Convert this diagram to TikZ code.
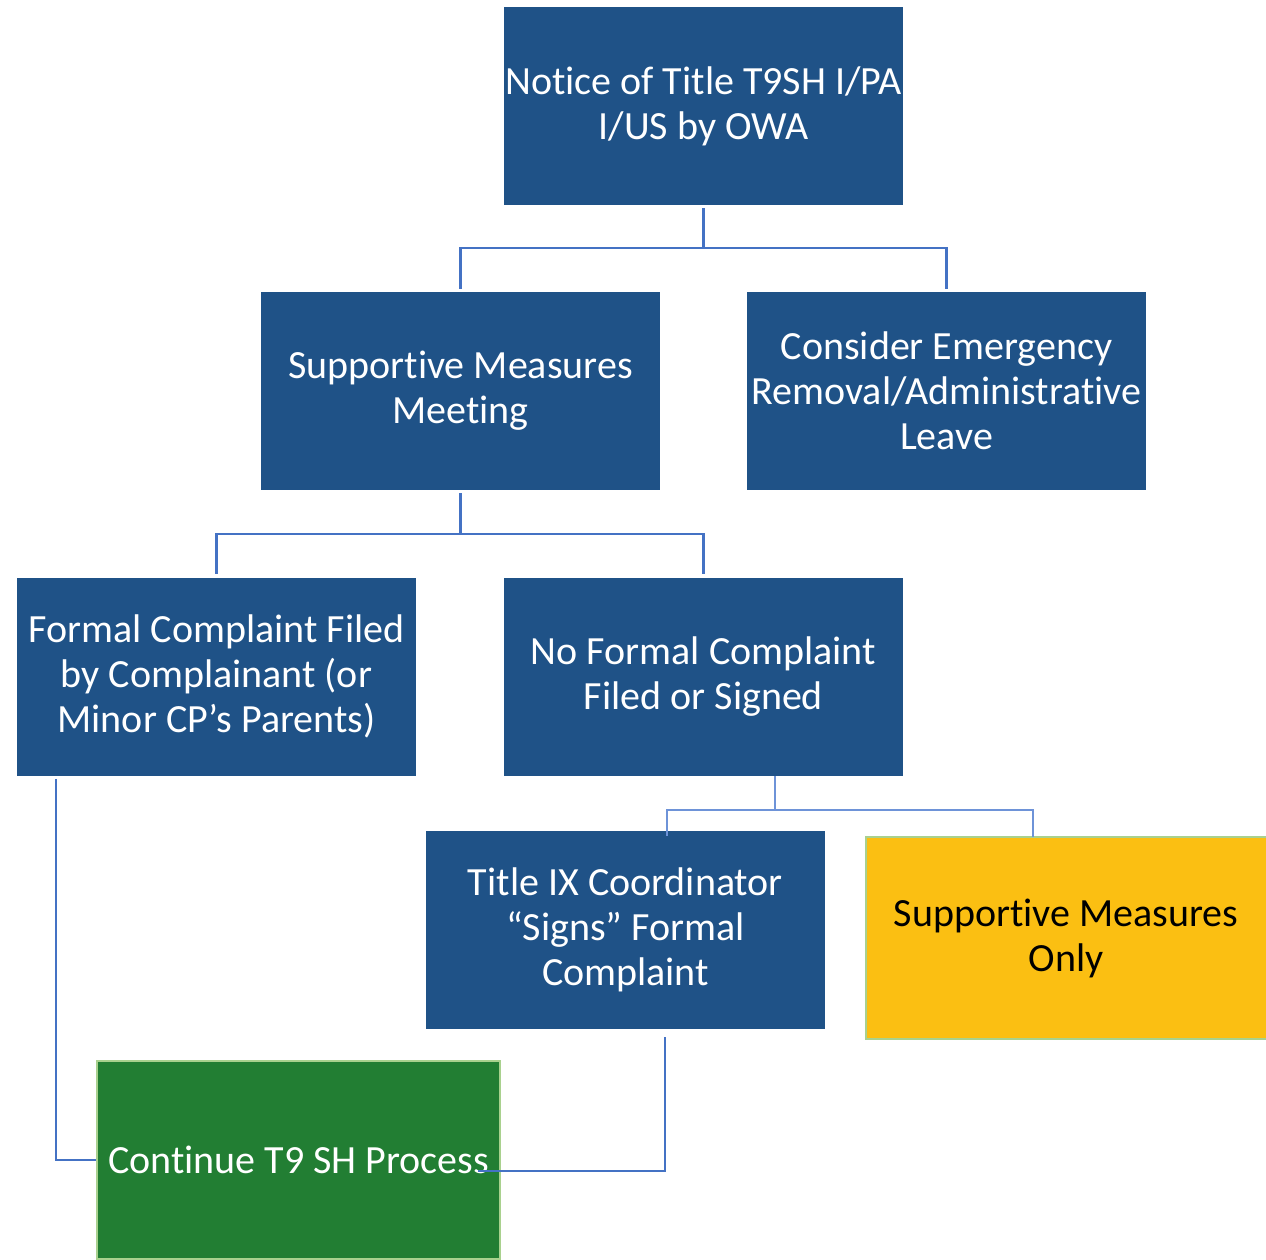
\documentclass[tikz,border=0pt]{standalone}
\usepackage{fontspec}
\setmainfont[Ligatures={NoCommon,NoRare}]{Carlito}
\usetikzlibrary{calc}
\definecolor{boxblue}{HTML}{1F5287}
\definecolor{linkblue}{HTML}{4472C4}
\definecolor{thinblue}{HTML}{6E93D8}
\definecolor{gold}{HTML}{FBBF12}
\definecolor{okgreen}{HTML}{227E33}
\definecolor{paleg}{HTML}{A9D18E}
\begin{document}
\begin{tikzpicture}[x=0.75pt,y=-0.75pt,
  bluebox/.style={rectangle,fill=boxblue,text=white,inner sep=0pt,
    minimum width=299.25pt,minimum height=148.5pt,align=center,
    font=\fontsize{30}{33.75}\selectfont},
  goldbox/.style={rectangle,fill=gold,draw=paleg,line width=1.5pt,text=black,inner sep=0pt,
    minimum width=300.75pt,minimum height=151.5pt,align=center,
    font=\fontsize{30}{33.75}\selectfont},
  greenbox/.style={rectangle,fill=okgreen,draw=paleg,line width=1.5pt,text=white,inner sep=0pt,
    minimum width=302.25pt,minimum height=148.5pt,align=center,
    font=\fontsize{30}{33.75}\selectfont},
  conn/.style={draw=linkblue,line width=2.2pt},
  connthin/.style={draw=thinblue,line width=1.1pt},
  connmid/.style={draw=linkblue,line width=1.6pt},
  connfine/.style={draw=linkblue,line width=0.9pt}]
\useasboundingbox (0,0) rectangle (1266,1259);
\begin{scope}
\clip (0,0) rectangle (1266,1259);
\node[bluebox] (top) at (703.5,106) {Notice of Title T9SH I/PA\\I/US by OWA};
\node[bluebox] (smm) at (460.5,391) {Supportive Measures\\Meeting};
\node[bluebox] (cons) at (946.5,391) {Consider Emergency\\Removal/Administrative\\Leave};
\node[bluebox] (formal) at (216.5,676.5) {Formal Complaint Filed\\by Complainant (or\\Minor CP’s Parents)};
\node[bluebox] (nof) at (703.5,676.5) {No Formal Complaint\\Filed or Signed};
\node[bluebox] (t9) at (625.5,930) {Title IX Coordinator\\“Signs” Formal\\Complaint};
\node[goldbox] (only) at (1066,938) {Supportive Measures\\Only};
\node[greenbox] (cont) at (298.5,1160) {Continue T9 SH Process};

% top split
\coordinate (j1) at (703.5,248);
\draw[conn] ([yshift=-2.25pt]top.south) -- (j1) -| ([yshift=2.25pt]smm.north);
\draw[conn] (j1) -| ([yshift=2.25pt]cons.north);
% smm split
\coordinate (j2) at (460.5,534);
\draw[conn] ([yshift=-2.25pt]smm.south) -- (j2) -| ([yshift=2.25pt]formal.north);
\draw[conn] (j2) -| ([yshift=2.25pt]nof.north);
% no formal split
\coordinate (j3) at (775,810);
\coordinate (tl) at (667,836);
\coordinate (tr) at (1033,837);
\draw[connthin] (nof.south -| j3) -- (j3) -| (tl);
\draw[connthin] (j3) -| (tr);
% formal to continue
\coordinate (f0) at (56,778);
\draw[connmid] (formal.south -| f0) ++(0,3) |- (cont.west);
% title ix to continue
\coordinate (t0) at (665,1037);
\coordinate (t1) at (478,1171);
\draw[connfine] (t9.south -| t0) ++(0,8) |- (t1);
\end{scope}
\end{tikzpicture}
\end{document}
